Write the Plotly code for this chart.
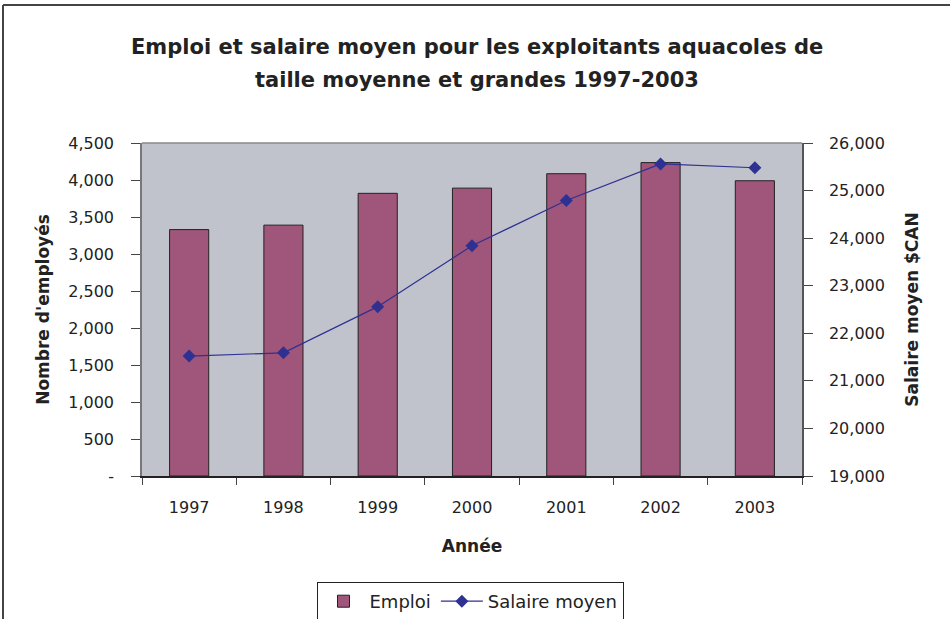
import plotly.graph_objects as go

# data
annees = ["1997", "1998", "1999", "2000", "2001", "2002", "2003"]
emploi = [3330, 3390, 3820, 3890, 4085, 4235, 3990]
salaire = [21520, 21590, 22560, 23840, 24790, 25560, 25480]

emploi_ticks = [0, 500, 1000, 1500, 2000, 2500, 3000, 3500, 4000, 4500]
emploi_labels = ["-", "500", "1,000", "1,500", "2,000", "2,500", "3,000", "3,500", "4,000", "4,500"]
salaire_ticks = [19000, 20000, 21000, 22000, 23000, 24000, 25000, 26000]

titre1 = "Emploi et salaire moyen pour les exploitants aquacoles de"
titre2 = "taille moyenne et grandes 1997-2003"

font = "DejaVu Sans, Verdana, sans-serif"

fig = go.Figure()
fig.add_trace(go.Bar(x=annees, y=emploi, name="Emploi",
                     marker=dict(color="#A0557A", line=dict(color="#222222", width=1)),
                     yaxis="y"))
fig.add_trace(go.Scatter(x=annees, y=salaire, name="Salaire moyen", mode="lines+markers",
                         line=dict(color="#2E3192", width=1.2),
                         marker=dict(symbol="diamond", size=10, color="#2E3192"),
                         yaxis="y2"))

# plot area px: left 142, right 802, top 143, bottom 476
W, H = 950, 619
L, R, T, B = 142, 802, 143, 476
pw, ph = R - L, B - T
def px_x(x): return (x - L) / pw
def px_y(y): return (B - y) / ph

fig.update_layout(
    width=W, height=H,
    margin=dict(l=L, r=W - R, t=T, b=H - B, autoexpand=False),
    paper_bgcolor="white",
    plot_bgcolor="#C0C3CB",
    font=dict(family=font, size=16, color="#222222"),
    bargap=0.585,
    showlegend=True,
    legend=dict(orientation="h", x=px_x(470), xanchor="center", y=px_y(582), yanchor="top",
                bordercolor="#222222", borderwidth=1, font=dict(size=18),
                traceorder="normal", itemwidth=42),
    xaxis=dict(
        title=dict(text="<b>Année</b>", font=dict(size=17), standoff=24),
        showline=True, linecolor="#222222", linewidth=1.5,
        ticks="outside", tickson="boundaries", ticklen=7, tickcolor="#444444",
        showgrid=False, ticklabelstandoff=16,
    ),
    yaxis=dict(
        title=dict(text="<b>Nombre d'employés</b>", font=dict(size=17), standoff=14),
        range=[0, 4500], tickvals=emploi_ticks, ticktext=emploi_labels,
        showline=True, linecolor="#777777", linewidth=1.5,
        ticks="outside", ticklen=9, tickcolor="#444444",
        showgrid=False, zeroline=False, ticklabelstandoff=14,
    ),
    yaxis2=dict(
        title=dict(text="<b>Salaire moyen $CAN</b>", font=dict(size=17), standoff=22),
        range=[19000, 26000], tickvals=salaire_ticks, tickformat=",d",
        overlaying="y", side="right",
        showline=True, linecolor="#555555", linewidth=1.5,
        ticks="outside", ticklen=9, tickcolor="#444444",
        showgrid=False, zeroline=False, ticklabelstandoff=13,
    ),
    annotations=[
        dict(text="<b>" + titre1 + "</b>", xref="paper", yref="paper", x=px_x(477), y=px_y(47),
             showarrow=False, xanchor="center", yanchor="middle", font=dict(size=21)),
        dict(text="<b>" + titre2 + "</b>", xref="paper", yref="paper", x=px_x(477), y=px_y(80),
             showarrow=False, xanchor="center", yanchor="middle", font=dict(size=21)),
    ],
    shapes=[
        # top border of plot area
        dict(type="line", xref="paper", yref="paper", x0=0, x1=1, y0=1, y1=1,
             line=dict(color="#888888", width=1.5)),
        # outer frame of the chart (left and top)
        dict(type="line", xref="paper", yref="paper", x0=px_x(3), x1=px_x(3),
             y0=px_y(5), y1=px_y(H + 5), line=dict(color="#444444", width=2)),
        dict(type="line", xref="paper", yref="paper", x0=px_x(3), x1=px_x(W + 5),
             y0=px_y(5), y1=px_y(5), line=dict(color="#444444", width=2)),
    ],
)

fig.write_html("out.html", config={"displayModeBar": False},
               post_script="document.body.style.margin='0';")
